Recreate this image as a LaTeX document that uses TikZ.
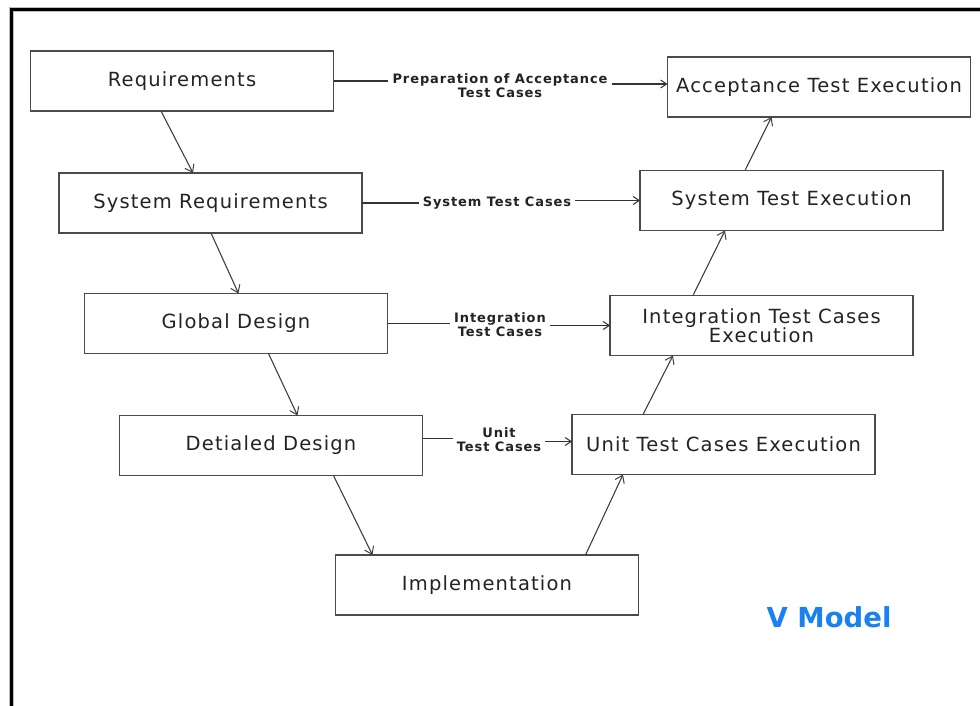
\documentclass[tikz,border=0pt]{standalone}
\usepackage{fontspec}
\usetikzlibrary{arrows.meta}
\newfontfamily\boxfont[LetterSpace=6]{DejaVu Sans}
\newfontfamily\labfont[LetterSpace=7]{DejaVu Sans Bold}
\newfontfamily\titlefont{DejaVu Sans Bold}
\definecolor{framegray}{RGB}{190,190,190}
\definecolor{boxline}{RGB}{75,75,75}
\definecolor{boxtext}{RGB}{35,35,35}
\definecolor{vblue}{RGB}{25,130,240}
\tikzset{
  stagebox/.style={draw=boxline, line width=1.8pt, fill=white, minimum width=303pt,
    minimum height=60pt, inner sep=0pt, outer sep=0pt, align=center, text=boxtext,
    font=\boxfont\fontsize{19.5}{19}\selectfont},
  caselabel/.style={inner sep=4pt, align=center, text=boxtext,
    font=\labfont\fontsize{13}{14}\selectfont},
  flow/.style={draw=black!75, line width=1.1pt,
    -{Straight Barb[length=7pt,width=10pt,line width=1pt]}},
  link/.style={draw=black!80, line width=1.1pt},
  linkto/.style={link, -{Straight Barb[length=6pt,width=8pt,line width=1pt]}}
}
\begin{document}
\begin{tikzpicture}[x=1pt,y=-1pt]
\useasboundingbox[fill=white] (0,0) rectangle (980,706);

% outer frame (left and top edges)
\draw[framegray, line width=5pt] (11,706) -- (11,9.5) -- (980,9.5);
\draw[black, line width=3pt] (11,706) -- (11,9.5) -- (980,9.5);

% left branch of the V
\node[stagebox] (req)  at (182,81)    {Requirements};
\node[stagebox] (sreq) at (210.5,203) {System Requirements};
\node[stagebox] (glob) at (236,323.5) {Global Design};
\node[stagebox] (det)  at (271,445.5) {Detialed Design};
\node[stagebox] (impl) at (487,585)   {Implementation};

% right branch of the V
\node[stagebox] (unit)  at (723.5,444.5) {Unit Test Cases Execution};
\node[stagebox] (integ) at (761.5,325.5) {Integration Test Cases\\Execution};
\node[stagebox] (stest) at (791.5,200.5) {System Test Execution};
\node[stagebox] (acc)   at (819,87)      {Acceptance Test Execution};

% descending arrows
\draw[flow] ([xshift=130.5]req.south west)  -- ([xshift=134]sreq.north west);
\draw[flow] ([xshift=152]sreq.south west)   -- ([xshift=154]glob.north west);
\draw[flow] ([xshift=184]glob.south west)   -- ([xshift=178]det.north west);
\draw[flow] ([xshift=214]det.south west)    -- ([xshift=37]impl.north west);

% ascending arrows
\draw[flow] ([xshift=250]impl.north west)   -- ([xshift=51]unit.south west);
\draw[flow] ([xshift=71]unit.north west)    -- ([xshift=63]integ.south west);
\draw[flow] ([xshift=83]integ.north west)   -- ([xshift=85]stest.south west);
\draw[flow] ([xshift=105]stest.north west)  -- ([xshift=104]acc.south west);

% test case preparation links
\node[caselabel] (l1) at (500,86)  {Preparation of Acceptance\\Test Cases};
\node[caselabel] (l2) at (497,203) {System Test Cases};
\node[caselabel] (l3) at (500,325) {Integration\\Test Cases};
\node[caselabel] (l4) at (499,440) {Unit\\Test Cases};

\draw[link]   (req.east) -- (req.east -| l1.west);
\draw[linkto] ([yshift=3]l1.east |- acc.west) -- ([yshift=3]acc.west);
\draw[link]   (sreq.east) -- (sreq.east -| l2.west);
\draw[linkto] (l2.east |- stest.west) -- (stest.west);
\draw[link]   (glob.east) -- (glob.east -| l3.west);
\draw[linkto] (l3.east |- integ.west) -- (integ.west);
\draw[link]   ([yshift=7]det.east) -- ([yshift=7]det.east -| l4.west);
\draw[linkto] ([yshift=3]l4.east |- unit.west) -- ([yshift=3]unit.west);

% title
\node[text=vblue, font=\titlefont\fontsize{27.5}{30}\selectfont, inner sep=0pt] (title) at (829,617) {V Model};
\end{tikzpicture}
\end{document}
